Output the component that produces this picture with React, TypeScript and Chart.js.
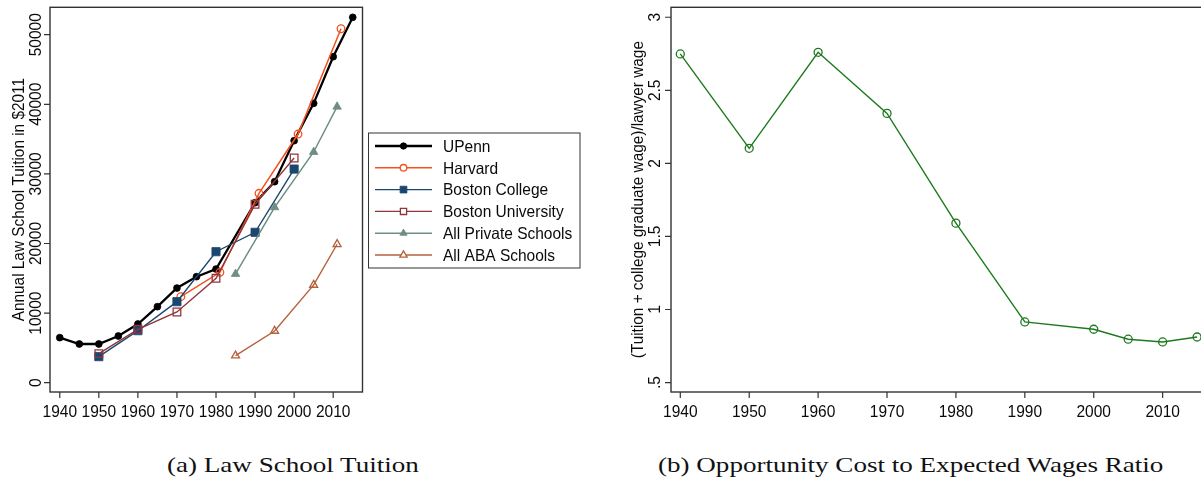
import { useEffect, useRef } from "react";
import { Chart, registerables } from "chart.js";

Chart.register(...registerables);

// ---------- data: panel (a) ----------
const tuitionXTicks = [1940, 1950, 1960, 1970, 1980, 1990, 2000, 2010];
const tuitionYTicks = [0, 10000, 20000, 30000, 40000, 50000];

const upennYears = [1940, 1945, 1950, 1955, 1960, 1965, 1970, 1975, 1980, 1990, 1995, 2000, 2005, 2010, 2015];
const upennValues = [6470, 5560, 5560, 6710, 8430, 10920, 13600, 15230, 16330, 25860, 28880, 34770, 40140, 46840, 52500];

const harvardYears = [1971, 1981, 1991, 2001, 2012];
const harvardValues = [12360, 15860, 27210, 35730, 50860];

const bcYears = [1950, 1960, 1970, 1980, 1990, 2000];
const bcValues = [3740, 7470, 11640, 18820, 21610, 30700];

const buYears = [1950, 1960, 1970, 1980, 1990, 2000];
const buValues = [4170, 7670, 10160, 15000, 25630, 32280];

const privateYears = [1985, 1995, 2005, 2011];
const privateValues = [15620, 25200, 33150, 39660];

const abaYears = [1985, 1995, 2005, 2011];
const abaValues = [3880, 7430, 14040, 19890];

// ---------- data: panel (b) ----------
const ratioXTicks = [1940, 1950, 1960, 1970, 1980, 1990, 2000, 2010];
const ratioYTicks = [0.5, 1, 1.5, 2, 2.5, 3];
const ratioYTickLabels = [".5", "1", "1.5", "2", "2.5", "3"];
const ratioYears = [1940, 1950, 1960, 1970, 1980, 1990, 2000, 2005, 2010, 2015];
const ratioValues = [2.749, 2.103, 2.76, 2.342, 1.591, 0.915, 0.865, 0.797, 0.778, 0.812];

const AXIS = "#333333";
const TEXT = "#0a0a0a";
const SANS = '"Liberation Sans", Arial, sans-serif';

type TxtOpt = { size: number; sx?: number; align?: CanvasTextAlign; baseline?: CanvasTextBaseline; rot?: number };

function drawText(ctx: CanvasRenderingContext2D, s: string, x: number, y: number, o: TxtOpt) {
  ctx.save();
  ctx.translate(x, y);
  if (o.rot) ctx.rotate(o.rot);
  ctx.scale(o.sx ?? 1, 1);
  ctx.font = `${o.size}px ${SANS}`;
  ctx.textAlign = o.align ?? "center";
  ctx.textBaseline = o.baseline ?? "alphabetic";
  ctx.fillStyle = TEXT;
  ctx.fillText(s, 0, 0);
  ctx.restore();
}

function drawMarker(ctx: CanvasRenderingContext2D, style: string, x: number, y: number, r: number, fill: string, stroke: string, lw: number) {
  ctx.save();
  ctx.beginPath();
  if (style === "circle") {
    ctx.arc(x, y, r, 0, Math.PI * 2);
  } else if (style === "rect") {
    const s = Math.SQRT1_2 * r;
    ctx.rect(x - s, y - s, 2 * s, 2 * s);
  } else if (style === "triangle") {
    ctx.moveTo(x, y - r);
    ctx.lineTo(x + 0.866 * r, y + 0.5 * r);
    ctx.lineTo(x - 0.866 * r, y + 0.5 * r);
    ctx.closePath();
  }
  ctx.fillStyle = fill;
  ctx.fill();
  ctx.lineWidth = lw;
  ctx.strokeStyle = stroke;
  ctx.stroke();
  ctx.restore();
}

type PanelCfg = {
  id: string;
  xTicks: number[];
  xLabels: string[];
  yTicks: number[];
  yLabels: string[];
  yLabelX: number;
  title: string;
  titleX: number;
  legend?: boolean;
};

function panelPlugin(cfg: PanelCfg) {
  return {
    id: cfg.id,
    afterDraw(chart: any) {
      const { ctx, chartArea: a, scales } = chart;
      const xs = scales.x;
      const ys = scales.y;
      ctx.save();
      ctx.strokeStyle = AXIS;
      ctx.lineWidth = 1.4;
      ctx.strokeRect(a.left, a.top, a.right - a.left, a.bottom - a.top);
      ctx.beginPath();
      cfg.xTicks.forEach((v) => {
        const px = xs.getPixelForValue(v);
        ctx.moveTo(px, a.bottom);
        ctx.lineTo(px, a.bottom + 6);
      });
      cfg.yTicks.forEach((v) => {
        const py = ys.getPixelForValue(v);
        ctx.moveTo(a.left, py);
        ctx.lineTo(a.left - 6, py);
      });
      ctx.lineWidth = 1.2;
      ctx.stroke();
      ctx.restore();

      cfg.xTicks.forEach((v, i) => {
        drawText(ctx, cfg.xLabels[i], xs.getPixelForValue(v), a.bottom + 24.8, { size: 16.5, sx: 0.94 });
      });
      cfg.yTicks.forEach((v, i) => {
        drawText(ctx, cfg.yLabels[i], cfg.yLabelX, ys.getPixelForValue(v), { size: 16.5, sx: 0.94, rot: -Math.PI / 2 });
      });
      drawText(ctx, cfg.title, cfg.titleX, (a.top + a.bottom) / 2, { size: 16.5, sx: 0.93, rot: -Math.PI / 2 });

      if (cfg.legend) {
        const bx = 368.5, by = 133, bw = 211.5, bh = 135;
        ctx.save();
        ctx.fillStyle = "#ffffff";
        ctx.fillRect(bx, by, bw, bh);
        ctx.strokeStyle = AXIS;
        ctx.lineWidth = 1;
        ctx.strokeRect(bx, by, bw, bh);
        ctx.restore();
        const datasets = chart.data.datasets;
        datasets.forEach((ds: any, i: number) => {
          const y = 146 + i * 21.8;
          ctx.save();
          ctx.beginPath();
          ctx.moveTo(375, y);
          ctx.lineTo(432, y);
          ctx.strokeStyle = ds.borderColor;
          ctx.lineWidth = ds.borderWidth;
          ctx.stroke();
          ctx.restore();
          drawMarker(ctx, ds.pointStyle, 403.5, y, ds.legendRadius, ds.pointBackgroundColor === "rgba(0,0,0,0)" ? "#ffffff" : ds.pointBackgroundColor, ds.borderColor, ds.pointBorderWidth);
          drawText(ctx, ds.label, 443, y + 5.8, { size: 16.5, sx: 0.94, align: "left" });
        });
      }
    },
  };
}

function series(label: string, years: number[], values: number[], color: string, style: string, radius: number, legendRadius: number, filled: boolean, width: number, order: number) {
  return {
    label,
    data: years.map((x, i) => ({ x, y: values[i] })),
    borderColor: color,
    backgroundColor: color,
    borderWidth: width,
    pointStyle: style,
    pointRadius: radius,
    pointHoverRadius: radius,
    pointBorderColor: color,
    pointBackgroundColor: filled ? color : "rgba(0,0,0,0)",
    pointBorderWidth: filled ? 0.8 : 1.3,
    legendRadius,
    tension: 0,
    fill: false,
    order,
  };
}

export default function App() {
  const leftRef = useRef<HTMLCanvasElement>(null);
  const rightRef = useRef<HTMLCanvasElement>(null);

  useEffect(() => {
    const leftCfg: PanelCfg = {
      id: "panelA",
      xTicks: tuitionXTicks,
      xLabels: tuitionXTicks.map(String),
      yTicks: tuitionYTicks,
      yLabels: tuitionYTicks.map(String),
      yLabelX: 40.8,
      title: "Annual Law School Tuition in $2011",
      titleX: 23.5,
      legend: true,
    };
    const rightCfg: PanelCfg = {
      id: "panelB",
      xTicks: ratioXTicks,
      xLabels: ratioXTicks.map(String),
      yTicks: ratioYTicks,
      yLabels: ratioYTickLabels,
      yLabelX: 59.8,
      title: "(Tuition + college graduate wage)/lawyer wage",
      titleX: 42.5,
    };

    const hiddenAxis = (min: number, max: number, size: number, horizontal: boolean) => ({
      type: "linear" as const,
      min,
      max,
      ticks: { display: false },
      grid: { display: false },
      border: { display: false },
      afterFit: (s: any) => {
        if (horizontal) s.height = size;
        else s.width = size;
      },
    });

    const left = new Chart(leftRef.current!, {
      type: "line",
      data: {
        datasets: [
          series("UPenn", upennYears, upennValues, "#000000", "circle", 3.4, 3.2, true, 2.3, 6),
          series("Harvard", harvardYears, harvardValues, "#f4511e", "circle", 3.8, 3.3, false, 1.5, 5),
          series("Boston College", bcYears, bcValues, "#1a476f", "rect", 5.8, 4.8, true, 1.4, 4),
          series("Boston University", buYears, buValues, "#90353b", "rect", 5.4, 4.4, false, 1.4, 3),
          series("All Private Schools", privateYears, privateValues, "#6e8e84", "triangle", 4.9, 4.2, true, 1.5, 2),
          series("All ABA Schools", abaYears, abaValues, "#b5603a", "triangle", 4.6, 4.2, false, 1.4, 1),
        ] as any,
      },
      options: {
        animation: false,
        responsive: false,
        devicePixelRatio: 1,
        events: [],
        layout: { padding: { left: 0, top: 7.3, right: 237.5, bottom: 0 } },
        plugins: { legend: { display: false }, tooltip: { enabled: false } },
        scales: {
          x: hiddenAxis(1937.5, 2017.5, 33, true),
          y: hiddenAxis(-1340, 53940, 50, false),
        } as any,
      },
      plugins: [panelPlugin(leftCfg)],
    });

    const right = new Chart(rightRef.current!, {
      type: "line",
      data: {
        datasets: [
          series("Ratio", ratioYears, ratioValues, "#1e7a1e", "circle", 4, 4, false, 1.4, 1),
        ] as any,
      },
      options: {
        animation: false,
        responsive: false,
        devicePixelRatio: 1,
        events: [],
        layout: { padding: { left: 0, top: 7.3, right: 13.6, bottom: 0 } },
        plugins: { legend: { display: false }, tooltip: { enabled: false } },
        scales: {
          x: hiddenAxis(1938.65, 2016.35, 33, true),
          y: hiddenAxis(0.4356, 3.068, 71, false),
        } as any,
      },
      plugins: [panelPlugin(rightCfg)],
    });

    return () => {
      left.destroy();
      right.destroy();
    };
  }, []);

  const caption = (left: number): React.CSSProperties => ({
    position: "absolute",
    left,
    top: 453.6,
    fontFamily: '"Liberation Serif", "Times New Roman", serif',
    fontSize: 22,
    lineHeight: "22px",
    whiteSpace: "nowrap",
    color: "#111",
    transform: "scaleX(1.23)",
    transformOrigin: "left center",
  });

  return (
    <div style={{ position: "absolute", left: 0, top: 0, width: 1201, height: 480, overflow: "hidden", background: "#ffffff" }}>
      <canvas ref={leftRef} width={600} height={425} style={{ position: "absolute", left: 0, top: 0, width: 600, height: 425 }} />
      <canvas ref={rightRef} width={620} height={425} style={{ position: "absolute", left: 600, top: 0, width: 620, height: 425 }} />
      <div style={caption(167)}>(a) Law School Tuition</div>
      <div style={caption(658)}>(b) Opportunity Cost to Expected Wages Ratio</div>
    </div>
  );
}
